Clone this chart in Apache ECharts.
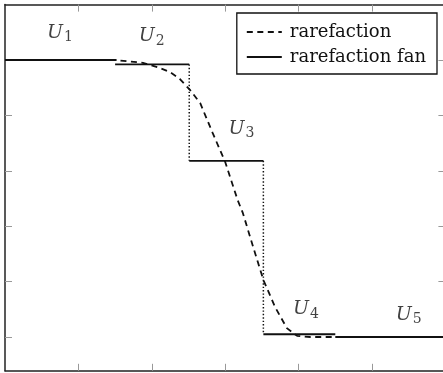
<!DOCTYPE html>
<html>
<head>
<meta charset="utf-8">
<script src="https://cdn.jsdelivr.net/npm/echarts@6/dist/echarts.min.js"></script>
<style>html,body{margin:0;padding:0;background:#fff;overflow:hidden}#c{width:443px;height:373px}</style>
</head>
<body>
<div id="c"></div>
<script>
// Dashed exact rarefaction profile
const rarefaction = [
  [0.00, 5.00], [1.50, 5.00], [1.88, 4.95], [2.08, 4.87], [2.25, 4.78], [2.38, 4.66],
  [2.52, 4.46], [2.66, 4.22], [2.83, 3.68], [3.00, 3.16], [3.17, 2.47], [3.24, 2.24],
  [3.38, 1.63], [3.52, 1.03], [3.68, 0.54], [3.84, 0.16], [3.98, 0.02], [4.16, 0.00],
  [6.00, 0.00]
];
// Piecewise constant fan states U1..U5 (null = break)
const fan = [
  [0.00, 5.00], [1.52, 5.00], null,
  [1.50, 4.92], [2.51, 4.92], null,
  [2.51, 3.18], [3.52, 3.18], null,
  [3.52, 0.05], [4.50, 0.05], null,
  [4.50, 0.00], [6.00, 0.00]
];
// Dotted jumps
const jump1 = [[2.51, 4.92], [2.51, 3.18]];
const jump2 = [[3.52, 3.18], [3.52, 0.05]];
// State labels
const stateLabels = [
  [0.75, 5.49, '1'], [2.00, 5.43, '2'], [3.22, 3.76, '3'], [4.10, 0.50, '4'], [5.50, 0.40, '5']
];
const xTicks = [1, 2, 3, 4, 5];
const yTicks = [0, 1, 2, 3, 4, 5];

const chart = echarts.init(document.getElementById('c'), null, {renderer: 'canvas'});
const axisLine = {show: true, onZero: false, lineStyle: {color: '#222', width: 1.5}};
const tick = {show: true, inside: true, length: 7, lineStyle: {color: '#999', width: 1}};
const mkX = (pos) => ({
  type: 'value', min: 0, max: 6, position: pos,
  axisLine: axisLine, axisTick: Object.assign({customValues: xTicks}, tick),
  axisLabel: {show: false}, splitLine: {show: false}
});
const mkY = (pos) => ({
  type: 'value', min: -0.61, max: 6, position: pos,
  axisLine: axisLine, axisTick: Object.assign({customValues: yTicks}, tick),
  axisLabel: {show: false}, splitLine: {show: false}
});
const ink = '#111';
chart.setOption({
  animation: false,
  color: [ink, ink, ink, ink, ink],
  grid: {left: 5, width: 440.4, top: 4.6, height: 366.2, outerBoundsMode: 'none', containLabel: false},
  xAxis: [mkX('bottom'), mkX('top')],
  yAxis: [mkY('left'), mkY('right')],
  legend: {
    data: ['rarefaction', 'rarefaction fan'],
    orient: 'vertical', right: 6, top: 13,
    padding: [9, 11, 7, 9],
    itemWidth: 35, itemHeight: 20, itemGap: 5,
    itemStyle: {opacity: 0, color: 'rgba(0,0,0,0)', borderWidth: 0},
    borderColor: '#111', borderWidth: 1.3, backgroundColor: '#fff',
    textStyle: {fontFamily: 'DejaVu Serif', fontSize: 18, color: ink, lineHeight: 20, padding: [0, 0, 0, 3]}
  },
  series: [
    {name: 'rarefaction', type: 'line', data: rarefaction, symbol: 'none',
     lineStyle: {color: ink, width: 1.8, type: [6, 4.5]}, z: 3},
    {name: 'rarefaction fan', type: 'line', data: fan, symbol: 'none', connectNulls: false,
     lineStyle: {color: ink, width: 1.8, type: 'solid'}, z: 4},
    {name: 'jump1', type: 'line', data: jump1, symbol: 'none',
     lineStyle: {color: ink, width: 1.5, type: [1.4, 2]}, z: 2},
    {name: 'jump2', type: 'line', data: jump2, symbol: 'none',
     lineStyle: {color: ink, width: 1.5, type: [1.4, 2]}, z: 2},
    {name: 'labels', type: 'scatter', data: stateLabels, symbolSize: 0, silent: true,
     label: {show: true, position: 'inside',
       formatter: p => '{u|U}{s|' + p.data[2] + '}',
       rich: {
         u: {fontFamily: 'DejaVu Serif', fontStyle: 'italic', fontSize: 19, color: ink, lineHeight: 24, verticalAlign: 'middle'},
         s: {fontFamily: 'DejaVu Serif', fontSize: 14, color: ink, lineHeight: 24, verticalAlign: 'bottom', padding: [0, 0, 0, 1]}
       }}}
  ]
});
</script>
</body>
</html>
